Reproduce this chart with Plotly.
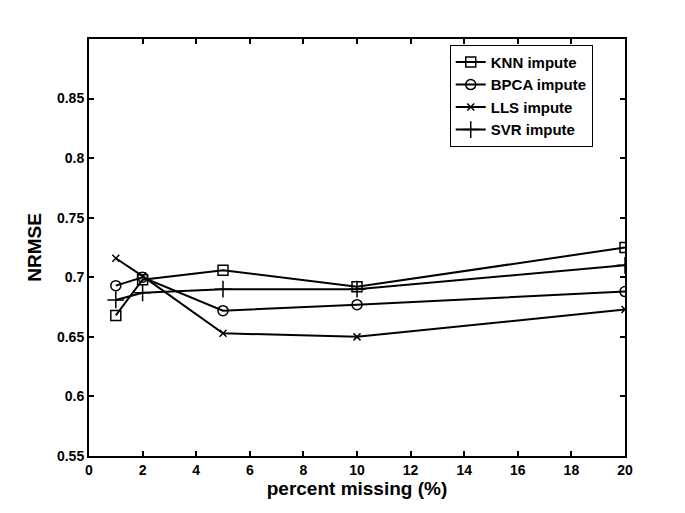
import plotly.graph_objects as go

x_vals = [1, 2, 5, 10, 20]
knn = [0.668, 0.698, 0.706, 0.692, 0.725]
bpca = [0.693, 0.700, 0.672, 0.677, 0.688]
lls = [0.716, 0.701, 0.653, 0.650, 0.673]
svr = [0.681, 0.687, 0.690, 0.690, 0.710]

series = [
    ("KNN impute", knn, "square-open", 10),
    ("BPCA impute", bpca, "circle-open", 10),
    ("LLS impute", lls, "x-thin", 7),
    ("SVR impute", svr, "cross-thin", 12),
]

fig = go.Figure()
for name, ys, sym, sz in series:
    fig.add_trace(go.Scatter(
        x=x_vals, y=ys, name=name, mode="lines+markers",
        line=dict(color="black", width=2),
        marker=dict(symbol=sym, size=sz, color="black",
                    line=dict(color="black", width=1.5)),
    ))

font_family = "Liberation Sans, Arial, sans-serif"
axis_common = dict(
    showline=True, linecolor="black", linewidth=2, mirror="ticks",
    ticks="inside", ticklen=5, tickwidth=1.5, tickcolor="black",
    showgrid=False, zeroline=False,
    tickfont=dict(family=font_family, size=14, color="black", weight="bold"),
)

fig.update_layout(
    width=685, height=513,
    margin=dict(l=81, r=68, t=31, b=65),
    paper_bgcolor="white", plot_bgcolor="white",
    font=dict(family=font_family, color="black"),
    xaxis=dict(range=[0, 20], dtick=2,
               title=dict(text="percent missing (%)", standoff=4,
                          font=dict(family=font_family, size=19, color="black", weight="bold")),
               **axis_common),
    yaxis=dict(range=[0.55, 0.9], tickvals=[0.55, 0.6, 0.65, 0.7, 0.75, 0.8, 0.85],
               ticktext=["0.55", "0.6", "0.65", "0.7", "0.75", "0.8", "0.85"],
               title=dict(text="NRMSE", standoff=10,
                          font=dict(family=font_family, size=19, color="black", weight="bold")),
               **axis_common),
    legend=dict(x=0.673, y=0.986, xanchor="left", yanchor="top",
                bgcolor="white", bordercolor="black", borderwidth=1,
                font=dict(family=font_family, size=15, color="black", weight="bold"),
                tracegroupgap=0, itemwidth=30),
    showlegend=True,
)

fig.write_html("out.html")
